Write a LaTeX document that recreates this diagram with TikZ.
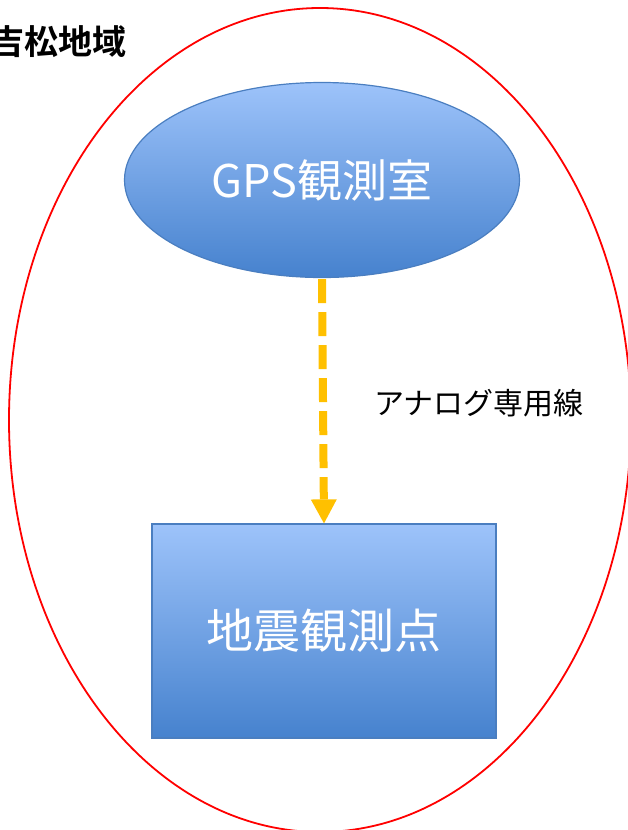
\documentclass[tikz,border=0pt]{standalone}
\usepackage{fontspec}
\newfontfamily\cjk{Noto Sans CJK JP}
\newfontfamily\cjkb{Noto Sans CJK JP Bold}
\usetikzlibrary{shapes.geometric,arrows.meta,shadings}
\definecolor{topblue}{RGB}{157,195,250}
\definecolor{botblue}{RGB}{70,130,206}
\definecolor{edgeblue}{RGB}{74,126,192}
\definecolor{linkorange}{RGB}{255,192,0}
\tikzset{
  bluefill/.style={top color=topblue, bottom color=botblue, draw=edgeblue, line width=1.2pt},
  whitetext/.style={text=white},
  link/.style={draw=linkorange, line width=8pt, dash pattern=on 24pt off 9pt, -{Triangle[length=24pt,width=26pt,line width=0pt]}},
}
\begin{document}
\begin{tikzpicture}[x=1pt,y=-1pt]
\useasboundingbox (0,0) rectangle (627,830);
\node[draw=red, line width=1.8pt, ellipse, minimum width=622pt, minimum height=824pt, inner sep=0pt] (region) at (320,420) {};
\node[anchor=east, font=\cjkb\fontsize{34}{38}\selectfont] (regionlabel) at (130,42) {吉松地域};
\node[ellipse, bluefill, minimum width=395pt, minimum height=195pt, inner sep=0pt] (gps) at (322,180) {};
\node[whitetext, font=\cjk\fontsize{45}{50}\selectfont] (gpstext) at (322,180) {GPS観測室};
\node[rectangle, bluefill, minimum width=344pt, minimum height=214pt, inner sep=0pt] (quake) at (324,631) {};
\node[whitetext, font=\cjk\fontsize{47}{52}\selectfont] (quaketext) at (324,631) {地震観測点};
\draw[link, shorten <=1pt] (gps.south) -- (quake.north);
\node[anchor=west, font=\cjk\fontsize{30}{34}\selectfont] (linklabel) at (371,403) {アナログ専用線};
\end{tikzpicture}
\end{document}
